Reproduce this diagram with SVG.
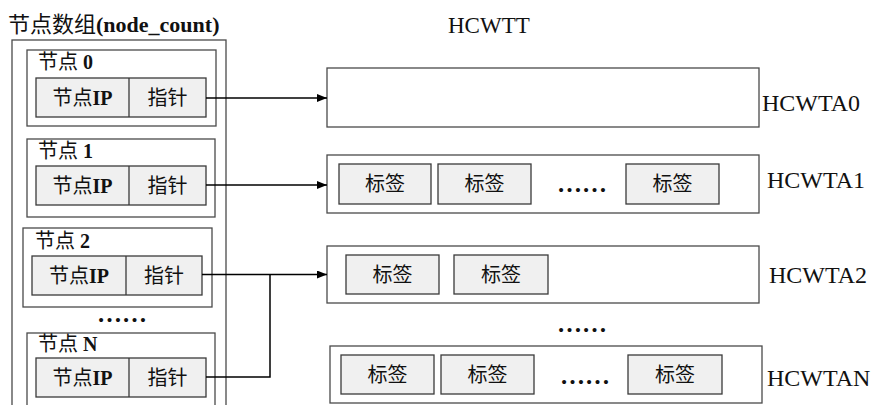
<svg xmlns="http://www.w3.org/2000/svg" width="873" height="405" viewBox="0 0 873 405">
  <defs>
    <marker id="arrow" viewBox="0 0 10 8" refX="10" refY="4" markerWidth="10" markerHeight="8" markerUnits="userSpaceOnUse" orient="auto">
      <path d="M0,0 L10,4 L0,8 z" fill="#000"/>
    </marker>
    <style>
      .frame { fill: #fff; stroke: #4a4a4a; stroke-width: 1.3; }
      .cell { fill: #f0f0f0; stroke: #3a3a3a; stroke-width: 1.3; }
      .div { stroke: #3a3a3a; stroke-width: 1.3; }
      .cjk { font-family: "Liberation Serif", "Noto Sans CJK SC", serif; font-size: 20px; fill: #111; }
      .mid { text-anchor: middle; }
      .b { font-weight: bold; }
      .lbl { font-family: "Liberation Serif", "Noto Sans CJK SC", serif; font-size: 24px; fill: #111; }
      .dots { font-family: "Liberation Serif", serif; font-size: 25px; font-weight: bold; fill: #111; }
      .wire { fill: none; stroke: #000; stroke-width: 1.5; }
    </style>
  </defs>

  <!-- headings -->
  <text x="8" y="32" class="cjk" style="font-size:22px">节点数组<tspan class="b">(node_count)</tspan></text>
  <text x="448" y="33" class="lbl" style="font-size:23px">HCWTT</text>

  <!-- node array container (runs past the bottom edge) -->
  <g id="node-array">
    <rect x="12" y="40" width="214" height="380" class="frame"/>
  </g>

  <g id="node-0">
    <rect x="27" y="50" width="189" height="76" class="frame"/>
    <text x="38" y="69" class="cjk">节点 <tspan class="b">0</tspan></text>
    <rect x="36" y="78" width="170" height="39" class="cell"/>
    <line x1="129" y1="78" x2="129" y2="117" class="div"/>
    <text x="82.5" y="105" class="cjk mid">节点<tspan class="b">IP</tspan></text>
    <text x="167.5" y="105" class="cjk mid">指针</text>
  </g>

  <g id="node-1">
    <rect x="27" y="139" width="188" height="78" class="frame"/>
    <text x="38" y="158" class="cjk">节点 <tspan class="b">1</tspan></text>
    <rect x="36" y="166" width="170" height="39" class="cell"/>
    <line x1="129" y1="166" x2="129" y2="205" class="div"/>
    <text x="82.5" y="193" class="cjk mid">节点<tspan class="b">IP</tspan></text>
    <text x="167.5" y="193" class="cjk mid">指针</text>
  </g>

  <g id="node-2">
    <rect x="23" y="228" width="189" height="79" class="frame"/>
    <text x="35" y="248" class="cjk">节点 <tspan class="b">2</tspan></text>
    <rect x="32" y="256" width="170" height="39" class="cell"/>
    <line x1="126" y1="256" x2="126" y2="295" class="div"/>
    <text x="79" y="283" class="cjk mid">节点<tspan class="b">IP</tspan></text>
    <text x="164" y="283" class="cjk mid">指针</text>
  </g>

  <text x="97" y="322" class="dots">……</text>

  <g id="node-n">
    <rect x="27" y="333" width="188" height="90" class="frame"/>
    <text x="38" y="351" class="cjk">节点 <tspan class="b">N</tspan></text>
    <rect x="36" y="358" width="170" height="39" class="cell"/>
    <line x1="129" y1="358" x2="129" y2="397" class="div"/>
    <text x="82.5" y="385" class="cjk mid">节点<tspan class="b">IP</tspan></text>
    <text x="167.5" y="385" class="cjk mid">指针</text>
  </g>

  <!-- tag arrays -->
  <g id="hcwta0">
    <rect x="327" y="68" width="432" height="59" class="frame"/>
    <text x="762" y="111" class="lbl">HCWTA0</text>
  </g>

  <g id="hcwta1">
    <rect x="327" y="155" width="432" height="58" class="frame"/>
    <rect x="339" y="164" width="92" height="40" class="cell"/>
    <text x="385" y="191" class="cjk mid">标签</text>
    <rect x="438" y="164" width="93" height="40" class="cell"/>
    <text x="484.5" y="191" class="cjk mid">标签</text>
    <text x="557" y="192" class="dots">……</text>
    <rect x="626" y="164" width="93" height="40" class="cell"/>
    <text x="672.5" y="191" class="cjk mid">标签</text>
    <text x="767" y="188" class="lbl">HCWTA1</text>
  </g>

  <g id="hcwta2">
    <rect x="327" y="246" width="432" height="57" class="frame"/>
    <rect x="346" y="255" width="93" height="39" class="cell"/>
    <text x="392.5" y="282" class="cjk mid">标签</text>
    <rect x="454" y="255" width="94" height="39" class="cell"/>
    <text x="501" y="282" class="cjk mid">标签</text>
    <text x="769" y="283" class="lbl">HCWTA2</text>
  </g>

  <text x="557" y="332" class="dots">……</text>

  <g id="hcwtan">
    <rect x="330" y="346" width="432" height="57" class="frame"/>
    <rect x="341" y="355" width="93" height="39" class="cell"/>
    <text x="387.5" y="382" class="cjk mid">标签</text>
    <rect x="441" y="355" width="93" height="39" class="cell"/>
    <text x="487.5" y="382" class="cjk mid">标签</text>
    <text x="560" y="384" class="dots">……</text>
    <rect x="628" y="355" width="94" height="39" class="cell"/>
    <text x="675" y="382" class="cjk mid">标签</text>
    <text x="767" y="386" class="lbl">HCWTAN</text>
  </g>

  <!-- pointer connectors -->
  <g id="connectors">
    <line x1="206" y1="98" x2="327" y2="98" class="wire" marker-end="url(#arrow)"/>
    <line x1="206" y1="185" x2="327" y2="185" class="wire" marker-end="url(#arrow)"/>
    <line x1="202" y1="274.5" x2="327" y2="274.5" class="wire" marker-end="url(#arrow)"/>
    <polyline points="206,377 270,377 270,274.5" class="wire"/>
  </g>
</svg>
